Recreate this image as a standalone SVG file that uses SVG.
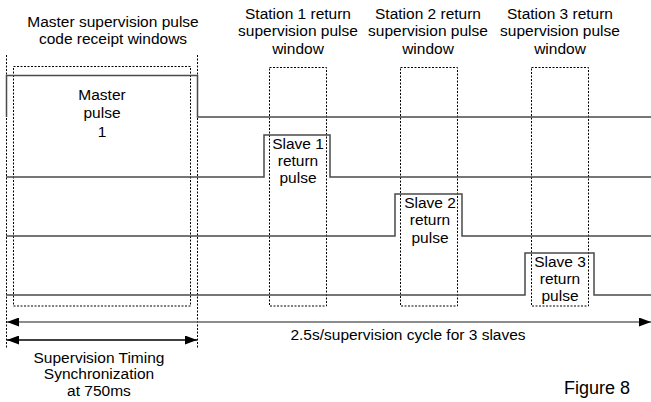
<svg xmlns="http://www.w3.org/2000/svg" width="651" height="402" viewBox="0 0 651 402">
<style>
text{font-family:"Liberation Sans",Arial,sans-serif;font-size:15.5px;fill:#000;text-anchor:middle}
.sig{fill:none;stroke:#4a4a4a;stroke-width:1.5}
.win{fill:none;stroke:#000;stroke-width:1;stroke-dasharray:2,1.5}
.arr{fill:none;stroke-width:1.3}
</style>
<defs>
<marker id="ah" viewBox="0 0 12 9" refX="12" refY="4.5" markerWidth="12" markerHeight="9" markerUnits="userSpaceOnUse" orient="auto-start-reverse">
<path d="M0,0 L12,4.5 L0,9 Z" fill="#000"/>
</marker>
</defs>
<rect width="651" height="402" fill="#fff"/>
<g id="master-window">
<line class="win" x1="6.5" y1="55" x2="6.5" y2="349"/>
<line class="win" x1="197.5" y1="55" x2="197.5" y2="349"/>
<rect class="win" x="13.5" y="66.5" width="177" height="239.5"/>
<text x="113" y="27">Master supervision pulse</text>
<text x="113" y="44">code receipt windows</text>
</g>
<g id="station1-window">
<rect class="win" x="269.5" y="67.5" width="57" height="238.5"/>
<text x="298" y="19">Station 1 return</text>
<text x="298" y="36">supervision pulse</text>
<text x="298" y="54">window</text>
</g>
<g id="station2-window">
<rect class="win" x="400.5" y="67.5" width="57" height="238.5"/>
<text x="428" y="19">Station 2 return</text>
<text x="428" y="36">supervision pulse</text>
<text x="428" y="54">window</text>
</g>
<g id="station3-window">
<rect class="win" x="531.5" y="67.5" width="57" height="238.5"/>
<text x="560" y="19">Station 3 return</text>
<text x="560" y="36">supervision pulse</text>
<text x="560" y="54">window</text>
</g>
<g id="master-pulse">
<path class="sig" d="M6.5,117 V75.5 H197.5 V117 H651"/>
<text x="102" y="100">Master</text>
<text x="102" y="118">pulse</text>
<text x="102" y="137">1</text>
</g>
<g id="slave1-pulse">
<path class="sig" d="M6,177 H264 V135 H330 V177 H651"/>
<text x="298" y="149">Slave 1</text>
<text x="298" y="166">return</text>
<text x="298" y="183">pulse</text>
</g>
<g id="slave2-pulse">
<path class="sig" d="M6,236 H395 V194 H462 V236 H651"/>
<text x="430" y="208">Slave 2</text>
<text x="430" y="225">return</text>
<text x="430" y="243">pulse</text>
</g>
<g id="slave3-pulse">
<path class="sig" d="M6,295 H525 V253 H594 V295 H651"/>
<text x="560" y="267">Slave 3</text>
<text x="560" y="284">return</text>
<text x="560" y="301">pulse</text>
</g>
<g id="connectors">
<line class="arr" stroke="#666" x1="7" y1="322" x2="651" y2="322" marker-start="url(#ah)" marker-end="url(#ah)"/>
<line class="arr" stroke="#000" x1="7" y1="340" x2="197" y2="340" marker-start="url(#ah)" marker-end="url(#ah)"/>
</g>
<g id="labels">
<text x="408" y="340">2.5s/supervision cycle for 3 slaves</text>
<text x="99" y="363">Supervision Timing</text>
<text x="99" y="379">Synchronization</text>
<text x="99" y="396">at 750ms</text>
<text x="597" y="394" style="font-size:18px">Figure 8</text>
</g>
</svg>
